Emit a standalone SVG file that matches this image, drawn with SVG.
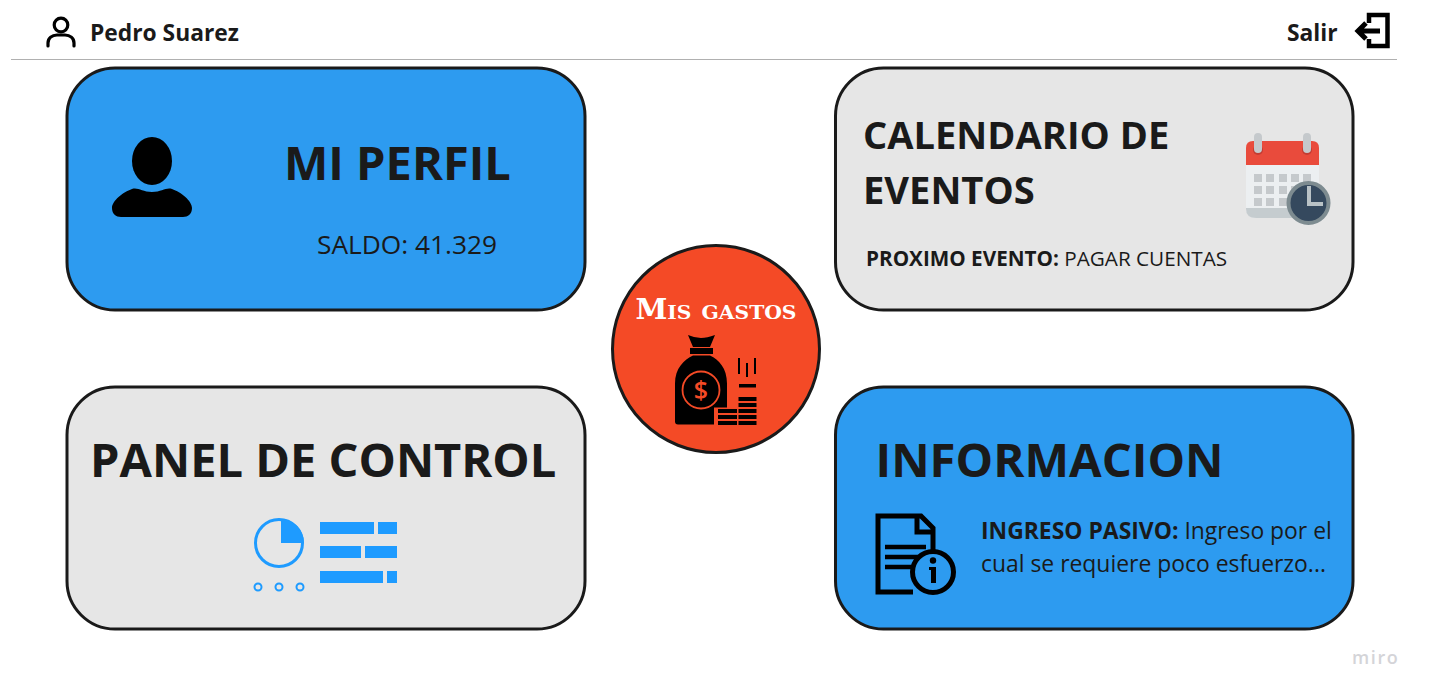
<svg xmlns="http://www.w3.org/2000/svg" width="1431" height="698" viewBox="0 0 1431 698">
<style>
text{font-family:"Open Sans","Noto Sans",sans-serif;fill:#1a1a1a}
.b{font-weight:700}
.card{stroke:#1a1a1a;stroke-width:3}
.blue{fill:#2d9bf0}
.grey{fill:#e6e6e6}
.ic{fill:#1e9bff}
</style>
<rect width="1431" height="698" fill="#fff"/>
<g id="header">
<line x1="11" y1="59.500" x2="1397" y2="59.500" stroke="#b0b0b0" stroke-width="1.200"/>
<g id="user-icon" fill="none" stroke="#000" stroke-width="3.200" stroke-linecap="round"><circle cx="61" cy="25" r="6.800"/><path d="M48 46v-3c0-5 4-8 9-8h8c5 0 9 3 9 8v3"/></g>
<text x="90" y="41" class="b" font-size="22.800">Pedro Suarez</text>
<text x="1287" y="41" class="b" font-size="22.800">Salir</text>
<g id="exit-icon" fill="none" stroke="#000" stroke-width="4.500"><path d="M1369 23v-8h18.500v31h-18.500v-7"/><path d="M1380 31h-22M1366 23l-8 8 8 8" stroke-width="5"/></g>
</g>
<g id="mi-perfil">
<rect class="card blue" x="67" y="68" width="518" height="242" rx="48"/>
<ellipse cx="152" cy="161" rx="20" ry="24"/>
<path d="M132 189c6-2 10 3 20 3s14-5 20-3c9 3 20 12 20 19c0 6-4 9-9 9h-62c-5 0-9-3-9-9c0-7 11-16 20-19z"/>
<text x="284" y="180" class="b" font-size="47">MI PERFIL</text>
<text x="317" y="254" font-size="26.300">SALDO: 41.329</text>
</g>
<g id="calendario">
<rect class="card grey" x="835.500" y="68" width="517.500" height="242" rx="48"/>
<text x="863" y="149" class="b" font-size="38.100">CALENDARIO DE</text>
<text x="863" y="204" class="b" font-size="38.100">EVENTOS</text>
<text x="866" y="266" font-size="20.700"><tspan class="b">PROXIMO EVENTO:</tspan> PAGAR CUENTAS</text>
<g id="calendar-icon">
<path d="M1246 164h73v44q0 10-10 10h-53q-10 0-10-10z" fill="#eceff1"/>
<path d="M1246 208h73v1q0 9-10 9h-53q-10 0-10-9z" fill="#bcc3c7" opacity=".8"/>
<path d="M1246 165v-17q0-7 7-7h59q7 0 7 7v17z" fill="#e94b3c"/>
<circle cx="1258" cy="150" r="5" fill="#c33c33"/><circle cx="1307" cy="150" r="5" fill="#c33c33"/>
<rect x="1254" y="133" width="8" height="20" rx="4" fill="#c5c9cc"/><rect x="1303" y="133" width="8" height="20" rx="4" fill="#c5c9cc"/>
<g fill="#c5c9cc">
<rect x="1254" y="174" width="8" height="8"/><rect x="1266" y="174" width="8" height="8"/><rect x="1279" y="174" width="8" height="8"/><rect x="1291" y="174" width="8" height="8"/><rect x="1303" y="174" width="8" height="8"/>
<rect x="1254" y="186" width="8" height="8"/><rect x="1266" y="186" width="8" height="8"/><rect x="1279" y="186" width="8" height="8"/><rect x="1291" y="186" width="8" height="8"/>
<rect x="1254" y="198" width="8" height="8"/><rect x="1266" y="198" width="8" height="8"/><rect x="1279" y="198" width="8" height="8"/>
</g>
<circle cx="1308.500" cy="203" r="20" fill="#35495e" stroke="#7d8b90" stroke-width="4"/>
<path d="M1309 186v18h14" fill="none" stroke="#b9c2c6" stroke-width="4"/>
</g>
</g>
<g id="panel-control">
<rect class="card grey" x="67" y="387" width="518" height="242" rx="48"/>
<text x="90" y="477" class="b" font-size="47">PANEL DE CONTROL</text>
<g id="panel-icon">
<circle cx="279" cy="543" r="23.500" fill="none" stroke="#1e9bff" stroke-width="3"/>
<path d="M281 519a24 24 0 0 1 23 24h-23z" class="ic"/>
<g fill="none" stroke="#1e9bff" stroke-width="2"><circle cx="258" cy="587" r="3.500"/><circle cx="279" cy="587" r="3.500"/><circle cx="300" cy="587" r="3.500"/></g>
<g class="ic"><rect x="320" y="522" width="54" height="12"/><rect x="378" y="522" width="19" height="12"/><rect x="320" y="546" width="41" height="12"/><rect x="365" y="546" width="32" height="12"/><rect x="320" y="571" width="63" height="12"/><rect x="387" y="571" width="10" height="12"/></g>
</g>
</g>
<g id="informacion">
<rect class="card blue" x="835.500" y="387" width="517.500" height="242" rx="48"/>
<text x="875.500" y="477" class="b" font-size="47.300">INFORMACION</text>
<text x="981" y="539" font-size="22.900"><tspan class="b">INGRESO PASIVO:</tspan> Ingreso por el</text>
<text x="981" y="572" font-size="22.900">cual se requiere poco esfuerzo...</text>
<g id="info-icon">
<path d="M933 553v-25l-12-12h-43v76h35" fill="none" stroke="#000" stroke-width="5"/>
<path d="M917 516v16h16" fill="none" stroke="#000" stroke-width="5"/>
<path d="M885 547h41M885 557h41M885 567h28" fill="none" stroke="#000" stroke-width="4.500"/>
<circle cx="933" cy="572" r="20.500" fill="#2d9bf0" stroke="#000" stroke-width="5"/>
<circle cx="933" cy="560.500" r="3.200"/><path d="M929 567h7v16h-5v-13h-2z"/>
</g>
</g>
<g id="mis-gastos">
<circle cx="716" cy="349" r="103.500" fill="#f44a26" stroke="#1a1a1a" stroke-width="3"/>
<text x="716" y="319" text-anchor="middle" font-size="27" font-weight="700" style="font-family:'DejaVu Serif','Liberation Serif',serif;font-variant:small-caps;fill:#fff" textLength="161" lengthAdjust="spacingAndGlyphs">Mis gastos</text>
<g id="money-icon">
<path d="M688 335q7 3 13 3q6 0 14-3l-5 12h-17z"/><rect x="690" y="348" width="23" height="6"/>
<path d="M693 355.500h17c9 4 17 13 17 28v24h-13v17h-36q-3 0-3-3v-38c0-15 9-24 18-28z"/>
<circle cx="701" cy="390" r="18.500" fill="none" stroke="#f44a26" stroke-width="1.800"/>
<text x="701" y="399" text-anchor="middle" font-size="25" font-weight="600" style="fill:#f44a26">$</text>
<g fill="#000"><rect x="718" y="409" width="19" height="4"/><rect x="718" y="415" width="19" height="4"/><rect x="718" y="421" width="19" height="4"/><rect x="738.500" y="397" width="18" height="4"/><rect x="738.500" y="403" width="18" height="4"/><rect x="738.500" y="409" width="18" height="4"/><rect x="738.500" y="415" width="18" height="4"/><rect x="738.500" y="421" width="18" height="4"/><rect x="739" y="384" width="17" height="3.500"/><rect x="738" y="358" width="2" height="16"/><rect x="754" y="358" width="2" height="16"/><rect x="746" y="363" width="2" height="14"/></g>
</g>
</g>
<text id="miro" x="1352" y="664" font-weight="600" font-size="18" style="fill:#d4d4d8;letter-spacing:1.600px">miro</text>
</svg>
